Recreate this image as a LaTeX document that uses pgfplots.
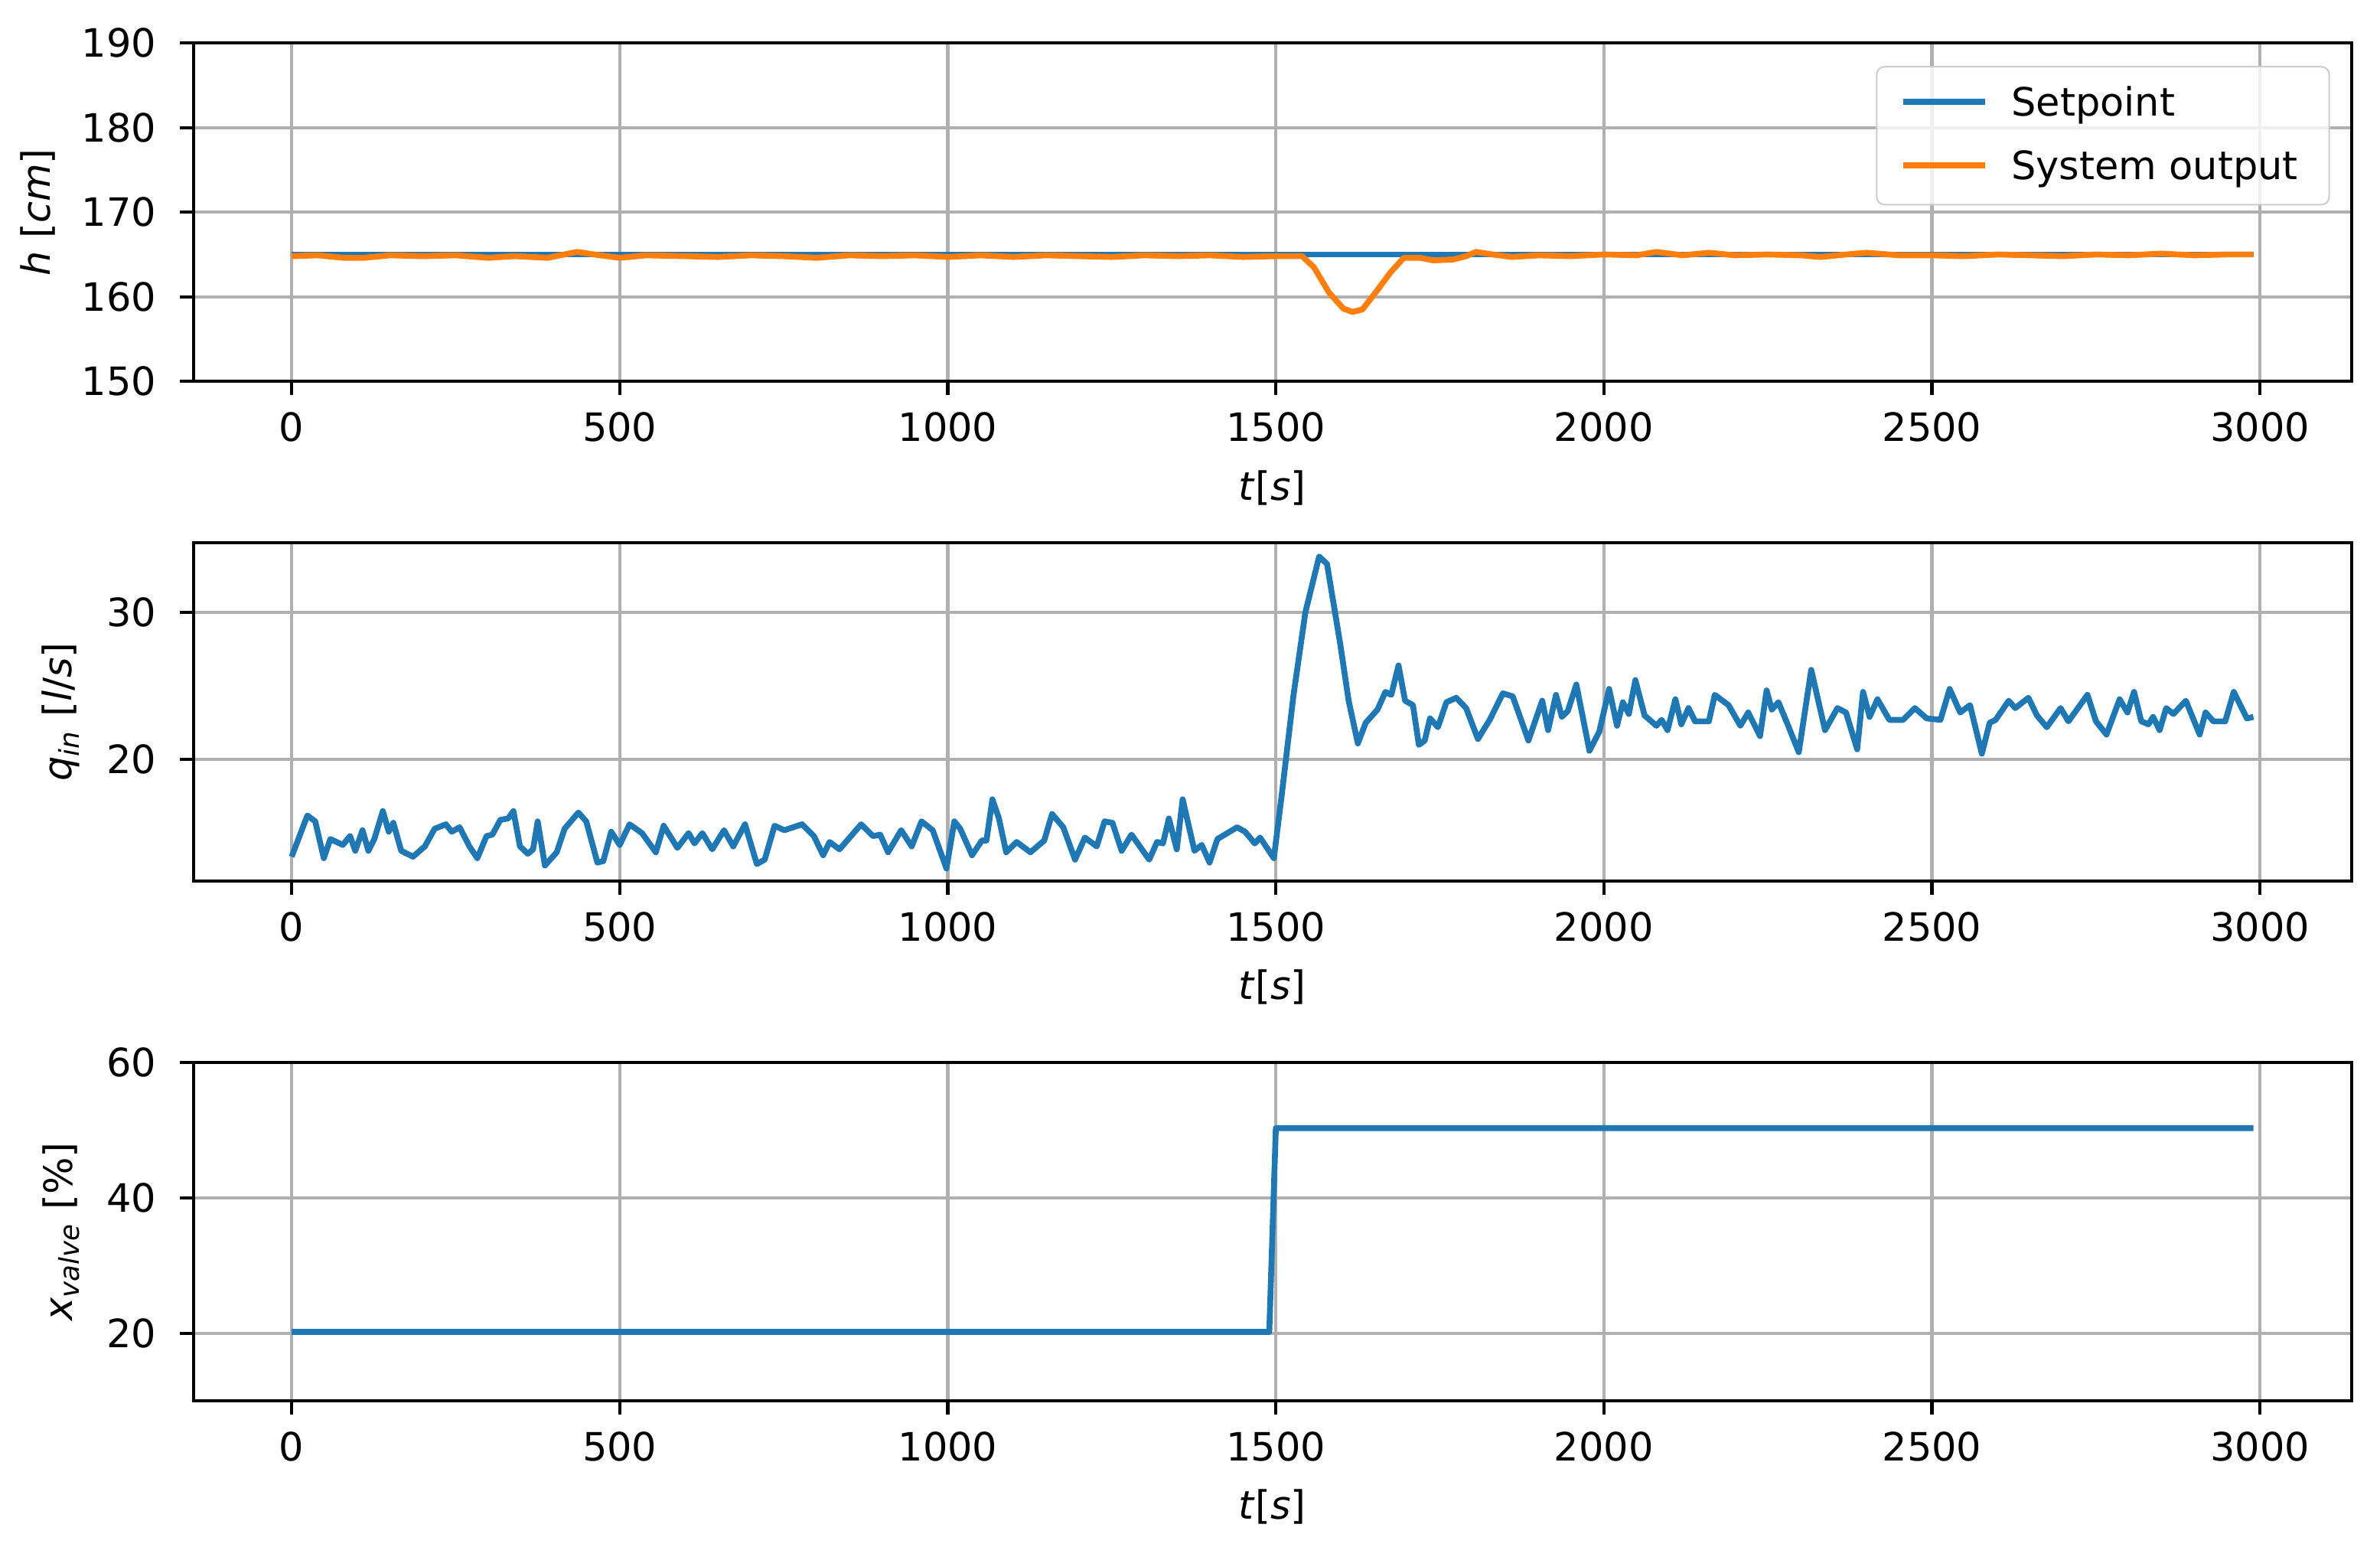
\documentclass[border=0pt]{standalone}
\usepackage{fontspec}
\setmainfont{DejaVu Sans}
\usepackage{pgfplots}
\pgfplotsset{compat=1.18}
\definecolor{c0}{HTML}{1F77B4}
\definecolor{c1}{HTML}{FF7F0E}
\definecolor{gridc}{HTML}{B0B0B0}
\pgfplotsset{
  mystyle/.style={
    scale only axis, width=553pt,
    xmin=-149.5, xmax=3139.5,
    xtick={0,500,1000,1500,2000,2500,3000},
    grid=major, major grid style={gridc, line width=0.8pt},
    axis line style={line width=0.8pt},
    tick style={black, line width=0.8pt},
    tick align=outside, major tick length=3.5pt, tick pos=left,
    ticklabel style={font=\fontsize{10}{12}\selectfont},
    yticklabel style={xshift=-2.5pt},
    xticklabel style={yshift=-0.9pt},
    label style={font=\fontsize{10}{12}\selectfont},
    xlabel style={yshift=-0.4pt},
    /pgf/number format/assume math mode=true,
    /pgf/number format/set thousands separator={},
    xlabel={\textit{t}[\textit{s}]},
    every axis plot/.append style={line width=1.5pt, line join=round},
    anchor=north west,
  }
}
\begin{document}
\begin{tikzpicture}
\useasboundingbox (0,0) rectangle (609.9pt,-396.3pt);
% ---------- axis 1 ----------
\begin{axis}[mystyle, at={(49.6pt,-11.0pt)}, height=86.7pt,
  ymin=150, ymax=190, ytick={150,160,170,180,190},
  ylabel={\textit{h} [\textit{cm}]},
  legend cell align=left,
  legend style={at={(rel axis cs:0.99,0.932)}, anchor=north east,
    draw=black!20, fill=white, fill opacity=0.8, text opacity=1,
    rounded corners=2pt, font=\fontsize{10}{12}\selectfont,
    inner xsep=6pt, inner ysep=3pt, row sep=3.3pt,
    /tikz/every odd column/.append style={column sep=4pt}},
  legend image code/.code={\draw[#1] (0pt,0.6pt) -- (21pt,0.6pt);},
]
\addplot[c0] coordinates {(0,165) (2990,165)};
\addlegendentry{Setpoint}
\addplot[c1] coordinates {
(0,164.8) (40,164.9) (80,164.6) (110,164.6) (150,164.9) (200,164.8) (250,164.9)
(300,164.6) (340,164.8) (390,164.6) (435,165.3) (470,164.9) (500,164.6) (540,164.9)
(600,164.8) (650,164.7) (700,164.9) (750,164.8) (800,164.6) (850,164.9) (900,164.8)
(950,164.9) (1000,164.7) (1050,164.9) (1100,164.7) (1150,164.9) (1200,164.8)
(1250,164.7) (1300,164.9) (1350,164.8) (1400,164.9) (1450,164.7) (1500,164.8)
(1540,164.8) (1558,163.5) (1581,160.5) (1603,158.6) (1617,158.2) (1632,158.5)
(1652,160.5) (1675,162.9) (1695,164.6) (1720,164.6) (1740,164.3) (1770,164.4)
(1790,164.8) (1805,165.3) (1830,165.0) (1860,164.7) (1900,164.9) (1950,164.8)
(2000,165.0) (2050,164.9) (2080,165.3) (2120,164.9) (2160,165.2) (2200,164.9)
(2250,165.0) (2300,164.9) (2330,164.7) (2370,165.0) (2400,165.2) (2450,164.9)
(2500,164.9) (2550,164.8) (2600,165.0) (2650,164.9) (2700,164.8) (2750,165.0)
(2800,164.9) (2850,165.1) (2900,164.9) (2950,165.0) (2990,165.0)
};
\addlegendentry{System output}
\end{axis}
% ---------- axis 2 ----------
\begin{axis}[mystyle, at={(49.6pt,-139.0pt)}, height=86.7pt,
  ymin=11.75, ymax=34.75, ytick={20,30},
  ylabel={\textit{q}\textsubscript{\textit{in}} [\textit{l}/\textit{s}]},
]
\addplot[c0] coordinates {
(0,13.4) (24,16.2) (36,15.8) (49,13.3) (59,14.6) (78,14.2) (89,14.8) (97,13.8)
(108,15.2) (117,13.8) (126,14.6) (139,16.5) (148,15.1) (155,15.7) (167,13.8)
(185,13.4) (203,14.1) (218,15.3) (235,15.6) (244,15.1) (256,15.4) (271,14.1)
(283,13.3) (297,14.8) (306,14.9) (318,15.9) (330,16.0) (338,16.5) (348,14.1)
(360,13.6) (368,13.9) (375,15.8) (386,12.8) (404,13.7) (416,15.3) (437,16.4)
(449,15.8) (466,13.0) (475,13.1) (487,15.1) (500,14.2) (515,15.6) (534,15.0)
(555,13.7) (567,15.5) (588,14.0) (605,15.0) (614,14.3) (626,15.0) (641,13.9)
(659,15.2) (673,14.1) (691,15.6) (709,12.9) (721,13.2) (736,15.5) (751,15.2)
(778,15.6) (796,14.8) (810,13.5) (820,14.4) (835,13.9) (868,15.6) (886,14.8)
(897,14.9) (909,13.7) (929,15.2) (945,14.1) (960,15.8) (977,15.2) (998,12.6)
(1010,15.8) (1019,15.3) (1037,13.5) (1052,14.5) (1059,14.5) (1068,17.3) (1078,16.0)
(1089,13.7) (1105,14.4) (1126,13.7) (1147,14.5) (1159,16.3) (1176,15.4) (1194,13.2)
(1209,14.7) (1227,14.1) (1239,15.8) (1251,15.7) (1265,13.8) (1280,14.9) (1307,13.2)
(1319,14.4) (1328,14.3) (1337,16.0) (1349,13.9) (1358,17.3) (1376,13.8) (1387,14.2)
(1399,13.0) (1411,14.6) (1441,15.4) (1453,15.1) (1468,14.3) (1476,14.7) (1497,13.3)
(1509,17.6) (1527,24.4) (1545,30.0) (1566,33.8) (1578,33.3) (1598,27.9) (1611,24.0)
(1625,21.1) (1637,22.5) (1655,23.4) (1667,24.6) (1676,24.4) (1687,26.4) (1697,24.0)
(1709,23.7) (1718,21.0) (1727,21.3) (1735,22.8) (1747,22.2) (1760,23.9) (1775,24.2)
(1790,23.5) (1808,21.4) (1826,22.7) (1846,24.5) (1861,24.3) (1885,21.3) (1906,24.0)
(1915,22.0) (1927,24.4) (1936,22.9) (1945,23.3) (1958,25.1) (1978,20.6) (1993,21.9)
(2008,24.8) (2020,22.3) (2029,23.9) (2038,23.1) (2048,25.4) (2062,23.0) (2080,22.3)
(2088,22.7) (2097,22.0) (2109,24.1) (2118,22.4) (2129,23.5) (2139,22.6) (2160,22.6)
(2169,24.4) (2190,23.7) (2208,22.3) (2220,23.2) (2238,21.6) (2248,24.7) (2256,23.4)
(2266,23.9) (2280,22.4) (2297,20.5) (2316,26.1) (2337,22.0) (2356,23.5) (2369,23.2)
(2386,20.7) (2395,24.6) (2405,22.9) (2417,24.1) (2435,22.7) (2456,22.7) (2474,23.5)
(2492,22.8) (2513,22.7) (2527,24.8) (2543,23.2) (2558,23.7) (2576,20.4) (2588,22.5)
(2597,22.7) (2617,24.0) (2627,23.5) (2647,24.2) (2660,23.0) (2675,22.2) (2696,23.5)
(2708,22.6) (2737,24.4) (2750,22.6) (2766,21.7) (2786,24.1) (2798,23.2) (2808,24.6)
(2819,22.6) (2830,22.4) (2837,22.9) (2847,22.0) (2857,23.5) (2868,23.1) (2887,24.0)
(2908,21.7) (2917,23.2) (2929,22.6) (2947,22.6) (2960,24.6) (2980,22.8) (2990,22.9)
};
\end{axis}
% ---------- axis 3 ----------
\begin{axis}[mystyle, at={(49.6pt,-272.2pt)}, height=86.7pt,
  ymin=10, ymax=60, ytick={20,40,60},
  ylabel={\textit{x}\textsubscript{\textit{valve}} [\%]},
]
\addplot[c0] coordinates {(0,20.2) (1490,20.2) (1500,50.3) (2990,50.3)};
\end{axis}
\end{tikzpicture}
\end{document}
